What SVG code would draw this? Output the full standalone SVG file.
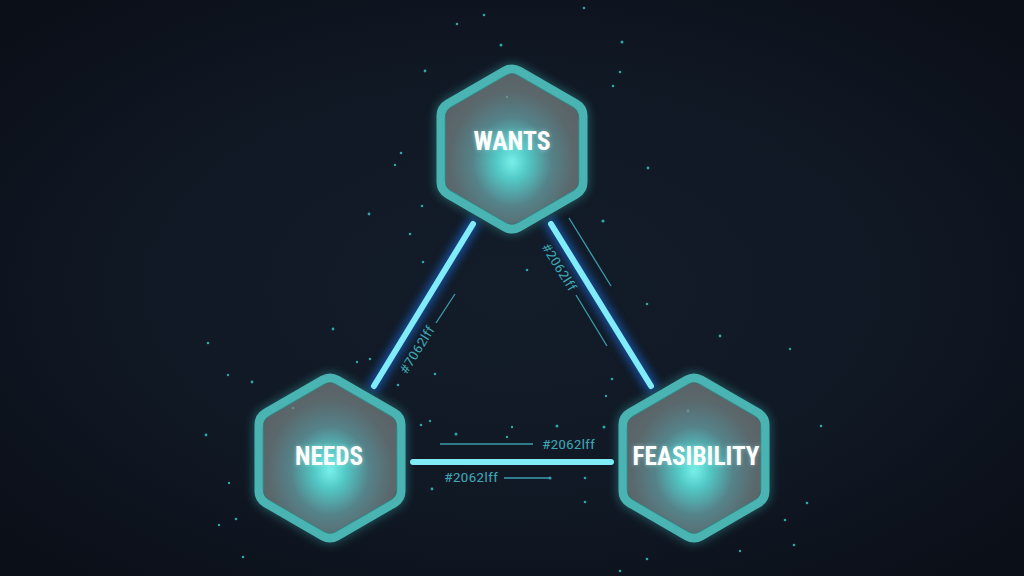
<svg xmlns="http://www.w3.org/2000/svg" xmlns:xlink="http://www.w3.org/1999/xlink" width="1024" height="576" viewBox="0 0 1024 576">
  <defs>
    <radialGradient id="bg" cx="50%" cy="50%" r="65%">
      <stop offset="0" stop-color="#131c29"/>
      <stop offset="0.6" stop-color="#101824"/>
      <stop offset="1" stop-color="#0b0f18"/>
    </radialGradient>
    <radialGradient id="hexfill" cx="50%" cy="58%" r="55%">
      <stop offset="0" stop-color="#78f0ea"/>
      <stop offset="0.2" stop-color="#52c9c6"/>
      <stop offset="0.5" stop-color="#55838a"/>
      <stop offset="0.8" stop-color="#5a686c"/>
      <stop offset="1" stop-color="#5b6367"/>
    </radialGradient>
    <filter id="glow" x="-30%" y="-30%" width="160%" height="160%">
      <feGaussianBlur stdDeviation="5"/>
    </filter>
    <filter id="lineglow" x="-20%" y="-20%" width="140%" height="140%">
      <feGaussianBlur stdDeviation="4"/>
    </filter>
    <filter id="txtglow" x="-20%" y="-50%" width="140%" height="200%">
      <feGaussianBlur stdDeviation="2"/>
    </filter>
    <path id="hex" d="M -6.93,-78 Q 0,-82 6.93,-78 L 64.08,-45 Q 71.01,-41 71.01,-33 L 71.01,33 Q 71.01,41 64.08,45 L 6.93,78 Q 0,82 -6.93,78 L -64.08,45 Q -71.01,41 -71.01,33 L -71.01,-33 Q -71.01,-41 -64.08,-45 Z"/>
    <style>
      .hexglow { fill: none; stroke: #3fc6c4; stroke-width: 12; opacity: 0.35; }
      .hexbody { fill: url(#hexfill); stroke: #49b4b2; stroke-width: 9; stroke-linejoin: round; }
      .hexinner { fill: none; stroke: #2f6f72; stroke-width: 1.2; opacity: 0.6; }
      .label { font-family: "Liberation Sans Narrow", "Roboto Condensed", "Roboto", "Liberation Sans", sans-serif; font-weight: bold; font-size: 25px; fill: #ffffff; text-anchor: middle; }
      .labelglow { font-family: "Liberation Sans Narrow", "Roboto Condensed", "Roboto", "Liberation Sans", sans-serif; font-weight: bold; font-size: 25px; fill: #bff; opacity: 0.45; text-anchor: middle; }
      .conglow { stroke: #1f7dff; stroke-width: 13; stroke-linecap: round; opacity: 0.5; fill: none; }
      .con { stroke: #80ecf7; stroke-width: 6; stroke-linecap: round; fill: none; }
      .tag { font-family: "Liberation Sans Narrow", "Roboto Condensed", "Roboto", "Liberation Sans", sans-serif; font-size: 13px; fill: #3ea3b2; }
      .tagline { stroke: #3a9eae; stroke-width: 1.3; fill: none; }
      .dot { fill: #2fa6a8; }
    </style>
  </defs>

  <rect width="1024" height="576" fill="url(#bg)"/>

  <g id="particles">
    <circle class="dot" cx="457" cy="24" r="1.3"/>
    <circle class="dot" cx="484" cy="15" r="1.3"/>
    <circle class="dot" cx="501" cy="45" r="1.5"/>
    <circle class="dot" cx="425" cy="71" r="1.4"/>
    <circle class="dot" cx="401" cy="153" r="1.3"/>
    <circle class="dot" cx="395" cy="165" r="1.2"/>
    <circle class="dot" cx="422" cy="206" r="1.3"/>
    <circle class="dot" cx="369" cy="214" r="1.4"/>
    <circle class="dot" cx="410" cy="234" r="1.3"/>
    <circle class="dot" cx="423" cy="262" r="1.3"/>
    <circle class="dot" cx="584" cy="8" r="1.3"/>
    <circle class="dot" cx="622" cy="42" r="1.5"/>
    <circle class="dot" cx="620" cy="72" r="1.3"/>
    <circle class="dot" cx="613" cy="86" r="1.3"/>
    <circle class="dot" cx="648" cy="168" r="1.4"/>
    <circle class="dot" cx="603" cy="221" r="1.6"/>
    <circle class="dot" cx="527" cy="270" r="1.3"/>
    <circle class="dot" cx="333" cy="329" r="1.4"/>
    <circle class="dot" cx="208" cy="343" r="1.3"/>
    <circle class="dot" cx="228" cy="375" r="1.2"/>
    <circle class="dot" cx="252" cy="382" r="1.4"/>
    <circle class="dot" cx="357" cy="362" r="1.2"/>
    <circle class="dot" cx="370" cy="359" r="1.3"/>
    <circle class="dot" cx="435" cy="374" r="1.3"/>
    <circle class="dot" cx="398" cy="385" r="1.3"/>
    <circle class="dot" cx="206" cy="435" r="1.4"/>
    <circle class="dot" cx="229" cy="483" r="1.2"/>
    <circle class="dot" cx="236" cy="519" r="1.3"/>
    <circle class="dot" cx="219" cy="525" r="1.2"/>
    <circle class="dot" cx="243" cy="557" r="1.3"/>
    <circle class="dot" cx="421" cy="425" r="1.3"/>
    <circle class="dot" cx="430" cy="421" r="1.2"/>
    <circle class="dot" cx="456" cy="434" r="1.5"/>
    <circle class="dot" cx="512" cy="427" r="1.2"/>
    <circle class="dot" cx="557" cy="426" r="1.5"/>
    <circle class="dot" cx="604" cy="427" r="1.5"/>
    <circle class="dot" cx="507" cy="437" r="1.2"/>
    <circle class="dot" cx="432" cy="489" r="1.4"/>
    <circle class="dot" cx="585" cy="478" r="1.3"/>
    <circle class="dot" cx="585" cy="502" r="1.3"/>
    <circle class="dot" cx="647" cy="304" r="1.3"/>
    <circle class="dot" cx="612" cy="379" r="1.3"/>
    <circle class="dot" cx="606" cy="396" r="1.2"/>
    <circle class="dot" cx="720" cy="336" r="1.4"/>
    <circle class="dot" cx="790" cy="349" r="1.2"/>
    <circle class="dot" cx="821" cy="426" r="1.3"/>
    <circle class="dot" cx="807" cy="503" r="1.3"/>
    <circle class="dot" cx="785" cy="520" r="1.3"/>
    <circle class="dot" cx="794" cy="545" r="1.3"/>
    <circle class="dot" cx="740" cy="551" r="1.2"/>
    <circle class="dot" cx="647" cy="559" r="1.3"/>
    <circle class="dot" cx="620" cy="571" r="1.3"/>
  </g>

  <g id="connectors">
    <g id="edge-wants-needs">
      <line class="conglow" x1="473" y1="224" x2="374" y2="386" filter="url(#lineglow)"/>
      <line class="con" x1="473" y1="224" x2="374" y2="386"/>
      <line class="tagline" x1="436" y1="323" x2="455" y2="294"/>
      <text class="tag" transform="translate(417,350) rotate(-58)" x="0" y="4.5" text-anchor="middle" textLength="54" lengthAdjust="spacingAndGlyphs">#7062lff</text>
    </g>
    <g id="edge-wants-feasibility">
      <line class="conglow" x1="551" y1="224" x2="651" y2="386" filter="url(#lineglow)"/>
      <line class="con" x1="551" y1="224" x2="651" y2="386"/>
      <line class="tagline" x1="569" y1="218" x2="611" y2="286"/>
      <line class="tagline" x1="576" y1="295" x2="607" y2="346"/>
      <text class="tag" transform="translate(559,267) rotate(58)" x="0" y="4.5" text-anchor="middle" textLength="54" lengthAdjust="spacingAndGlyphs">#2062lff</text>
    </g>
    <g id="edge-needs-feasibility">
      <line class="conglow" x1="413" y1="462" x2="611" y2="462" filter="url(#lineglow)"/>
      <line class="con" x1="413" y1="462" x2="611" y2="462"/>
      <line class="tagline" x1="440" y1="444" x2="533" y2="444"/>
      <text class="tag" x="542" y="449" textLength="53" lengthAdjust="spacingAndGlyphs">#2062lff</text>
      <text class="tag" x="444" y="482" textLength="54" lengthAdjust="spacingAndGlyphs">#2062lff</text>
      <line class="tagline" x1="504" y1="478" x2="549" y2="478"/>
      <circle cx="550" cy="478" r="1.6" fill="#3a9eae"/>
    </g>
  </g>

  <g id="node-wants" transform="translate(512,149)">
    <use xlink:href="#hex" class="hexglow" filter="url(#glow)"/>
    <use xlink:href="#hex" class="hexbody"/>
    <use xlink:href="#hex" class="hexinner" transform="scale(0.94)"/>
    <circle cx="-5" cy="-52" r="1.2" fill="#6fa8aa" opacity="0.6"/>
    <text class="labelglow" x="0" y="1" textLength="77" lengthAdjust="spacingAndGlyphs" filter="url(#txtglow)">WANTS</text>
    <text class="label" x="0" y="1" textLength="77" lengthAdjust="spacingAndGlyphs">WANTS</text>
  </g>

  <g id="node-needs" transform="translate(330,458)">
    <use xlink:href="#hex" class="hexglow" filter="url(#glow)"/>
    <use xlink:href="#hex" class="hexbody"/>
    <use xlink:href="#hex" class="hexinner" transform="scale(0.94)"/>
    <circle cx="-37" cy="-50" r="1.2" fill="#6fa8aa" opacity="0.6"/>
    <text class="labelglow" x="-1" y="7" textLength="68" lengthAdjust="spacingAndGlyphs" filter="url(#txtglow)">NEEDS</text>
    <text class="label" x="-1" y="7" textLength="68" lengthAdjust="spacingAndGlyphs">NEEDS</text>
  </g>

  <g id="node-feasibility" transform="translate(694,458)">
    <use xlink:href="#hex" class="hexglow" filter="url(#glow)"/>
    <use xlink:href="#hex" class="hexbody"/>
    <use xlink:href="#hex" class="hexinner" transform="scale(0.94)"/>
    <circle cx="-6" cy="-47" r="1.4" fill="#6fa8aa" opacity="0.6"/>
    <text class="labelglow" x="2" y="7" textLength="127" lengthAdjust="spacingAndGlyphs" filter="url(#txtglow)">FEASIBILITY</text>
    <text class="label" x="2" y="7" textLength="127" lengthAdjust="spacingAndGlyphs">FEASIBILITY</text>
  </g>
</svg>
